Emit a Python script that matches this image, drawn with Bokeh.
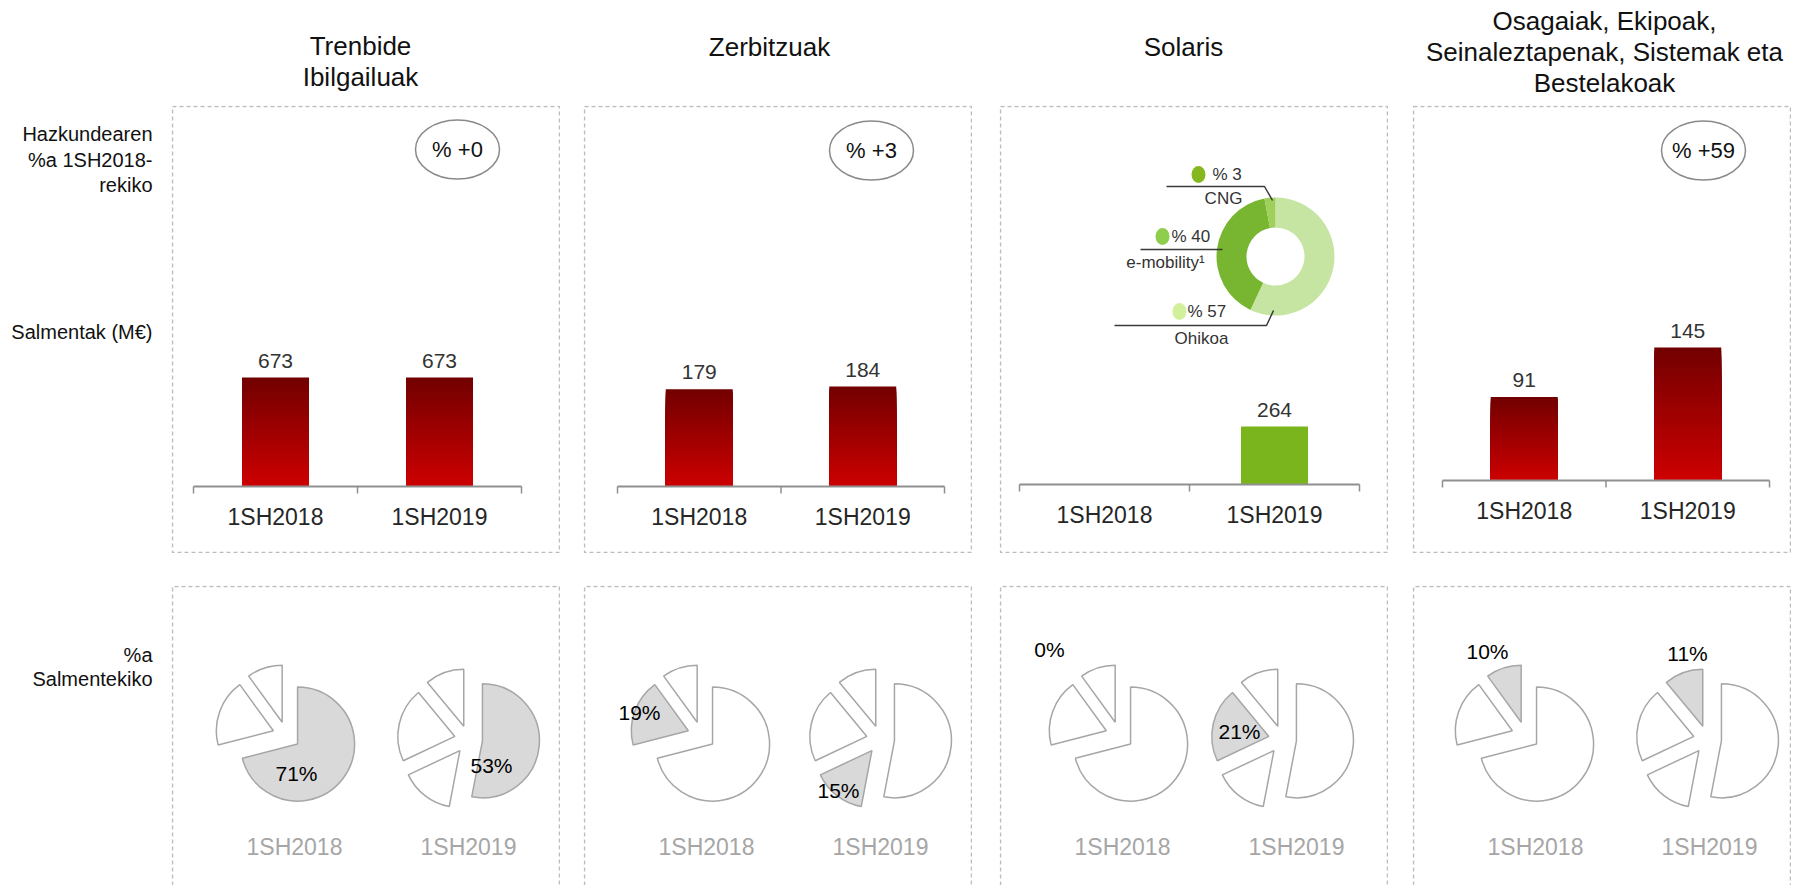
import math
from bokeh.plotting import figure
from bokeh.layouts import row, column
from bokeh.models import Range1d, Spacer
from bokeh.embed import file_html
from bokeh.resources import INLINE
from bokeh.core.properties import value

# ---------------- data ----------------
segments = ["Trenbide\nIbilgailuak", "Zerbitzuak", "Solaris",
            "Osagaiak, Ekipoak,\nSeinaleztapenak, Sistemak eta\nBestelakoak"]
periods = ["1SH2018", "1SH2019"]
sales_trenbide = [673, 673]
sales_zerbitzuak = [179, 184]
sales_solaris = [0, 264]
sales_osagaiak = [91, 145]
growth_pct = [0, 3, None, 59]
share_2018 = [71, 19, 0, 10]
share_2019 = [53, 15, 21, 11]
solaris_mix_labels = ["Ohikoa", "e-mobility¹", "CNG"]
solaris_mix_pct = [57, 40, 3]
row_labels_growth = ["Hazkundearen", "%a 1SH2018-", "rekiko"]
row_labels_sales = ["Salmentak (M€)"]
row_labels_share = ["%a", "Salmentekiko"]

sales = [sales_trenbide, sales_zerbitzuak, sales_solaris, sales_osagaiak]
shares = [share_2018, share_2019]

# ---------------- style / layout ----------------
FONT = value("Liberation Sans")
SHIFT_X, SHIFT_Y = 7, 6
LAB_W = 164 + SHIFT_X
BOX_W = [389, 389, 389, 379]
GAP_W = [23, 27, 24]
TITLE_H, TOP_H, GAP_H, BOT_H = 99 + SHIFT_Y, 448, 32, 300
TOTAL_W = LAB_W + sum(BOX_W) + sum(GAP_W)

BOX_C = "#bdbdbd"
AX_C = "#8f8f8f"
DARK_RED, RED = "#730000", "#cc0000"
GREEN = "#7ab51d"
TXT = "#111111"

TITLE_X = [x + SHIFT_X for x in (353, 762, 1176, 1597)]   # in title figure
TITLE_Y0 = [y + SHIFT_Y for y in (39, 40, 40, 14)]        # first line, from top
TITLE_LH = 31
LAB_RIGHT = 145 + SHIFT_X

AXIS_Y = [381, 381, 379, 375]
AXIS_X = [(22, 350), (34, 361), (20, 360), (30, 357)]
BAR_PX = [109, 100, 58, 133]
BAR_W_PX = 67
ELL_C = [(286, 44), (288, 45), None, (291, 45)]

DONUT_C = (276, 151)
DONUT_R = (29, 59)
DONUT_COL = ["#c6e5a2", "#78b632", "#9fd05c"]
DOT_COL = ["#d2f09c", "#8fcd4c", "#84b81e"]
CALLOUT_DOT = [(180, 206), (163, 131), (199, 69)]
CALLOUT_PCT_X = [188, 172, 213]
CALLOUT_LINE = [[(115, 220), (267, 220), (274, 205)],
                [(141, 144), (223, 144)],
                [(167, 81), (265, 81), (273, 95)]]
CALLOUT_NAME = [(202, 233), (166, 157), (224, 93)]

PIE_X = [[115, 297], [118, 297], [120, 283], [113, 295]]
PIE_Y = [150, 154]
PIE_R = 57
EXPLODE = 14
LBL_OFF = [[(10, 38), (23, 26)], [(-62, -23), (-42, 51)],
           [(-70, -86), (-43, -8)], [(-38, -84), (-20, -86)]]
PER_LBL_X = [123, 297]
PER_LBL_Y = 261


def mix(c1, c2, t):
    a = [int(c1[i:i + 2], 16) for i in (1, 3, 5)]
    b = [int(c2[i:i + 2], 16) for i in (1, 3, 5)]
    return "#%02x%02x%02x" % tuple(round(a[j] + (b[j] - a[j]) * t) for j in range(3))


def base(w, h, xr=None, yr=None):
    p = figure(width=w, height=h, output_backend="svg", toolbar_location=None,
               x_axis_location=None, y_axis_location=None, min_border=0,
               x_range=xr if xr is not None else Range1d(0, w),
               y_range=yr if yr is not None else Range1d(0, h))
    for g in p.grid:
        g.visible = False
    p.outline_line_color = None
    p.background_fill_color = "white"
    p.border_fill_color = "white"
    return p


def txt(p, xs, ys, texts, size, color=TXT, align="center", baseline="middle", rn=None, **kw):
    args = dict(x=xs, y=ys, text=texts, text_font=FONT, text_font_size=size,
                text_color=color, text_align=align, text_baseline=baseline)
    if rn:
        args.update(x_range_name=rn, y_range_name=rn)
    args.update(kw)
    p.text(**args)


# ---------------- titles ----------------
title_fig = base(TOTAL_W, TITLE_H)
for i, seg in enumerate(segments):
    lines = seg.split("\n")
    txt(title_fig, [TITLE_X[i]] * len(lines),
        [TITLE_H - (TITLE_Y0[i] + k * TITLE_LH) for k in range(len(lines))],
        lines, "26px")

# ---------------- row labels ----------------
lab_top = base(LAB_W, TOP_H)
txt(lab_top, [LAB_RIGHT] * 3, [TOP_H - y for y in (28, 54, 79)], row_labels_growth, "20px",
    align="right")
txt(lab_top, [LAB_RIGHT], [TOP_H - 226], row_labels_sales, "20px", align="right")
lab_bot = base(LAB_W, BOT_H)
txt(lab_bot, [LAB_RIGHT] * 2, [BOT_H - y for y in (69, 93)], row_labels_share, "20px",
    align="right")


# ---------------- top panels ----------------
def top_panel(i):
    w = BOX_W[i]
    vals = sales[i]
    n = len(periods)
    a = AXIS_Y[i]
    s = BAR_PX[i] / max(vals)
    ax0, ax1 = AXIS_X[i]
    unit = (ax1 - ax0) / n
    xr = Range1d(-0.5 - ax0 / unit, n - 0.5 + (w - ax1) / unit)
    yr = Range1d(-(TOP_H - a) / s, a / s)
    p = base(w, TOP_H, xr, yr)
    p.extra_x_ranges = {"px": Range1d(0, w)}
    p.extra_y_ranges = {"px": Range1d(0, TOP_H)}
    p.quad(left=[1], right=[w - 1], top=[TOP_H - 1], bottom=[1], fill_color=None,
           line_color=BOX_C, line_dash="4 3", line_width=1.5,
           x_range_name="px", y_range_name="px")

    xs = list(range(n))
    top_c, bot_c = (GREEN, GREEN) if i == 2 else (DARK_RED, RED)
    NB = 40
    bx, bt, bc = [], [], []
    for k in range(NB):
        f = 1 - k / NB
        col = mix(top_c, bot_c, k / (NB - 1))
        for x, v in zip(xs, vals):
            if v > 0:
                bx.append(x)
                bt.append(v * f)
                bc.append(col)
    p.vbar(x=bx, top=bt, bottom=0, width=BAR_W_PX / unit, fill_color=bc, line_color=None)

    # axis line and ticks
    p.segment(x0=[-0.5], y0=[0], x1=[n - 0.5], y1=[0], line_color=AX_C, line_width=2)
    p.ray(x=[k - 0.5 for k in range(n + 1)], y=[0] * (n + 1), length=7, length_units="screen",
          angle=-math.pi / 2, line_color=AX_C, line_width=1.5)

    nz = [(x, v) for x, v in zip(xs, vals) if v > 0]
    txt(p, [x for x, _ in nz], [v for _, v in nz], [str(v) for _, v in nz], "21px",
        color="#333333", y_offset=-17)
    txt(p, xs, [0] * n, periods, "23px", color="#262626", y_offset=30)

    if growth_pct[i] is not None:
        cx, cy = ELL_C[i]
        p.ellipse(x=[cx], y=[TOP_H - cy], width=84, height=59, width_units="screen",
                  height_units="screen", fill_color=None, line_color="#8a8a8a", line_width=1.5,
                  x_range_name="px", y_range_name="px")
        txt(p, [cx], [TOP_H - cy], ["%% +%d" % growth_pct[i]], "22px", rn="px")

    if i == 2:
        cx, cy = DONUT_C
        starts, ends, c = [], [], 0
        for pct in solaris_mix_pct:
            starts.append(math.pi / 2 - 2 * math.pi * c / 100)
            c += pct
            ends.append(math.pi / 2 - 2 * math.pi * c / 100)
        m = len(solaris_mix_pct)
        p.annular_wedge(x=[cx] * m, y=[TOP_H - cy] * m, inner_radius=DONUT_R[0],
                        outer_radius=DONUT_R[1], inner_radius_units="screen",
                        outer_radius_units="screen", start_angle=starts, end_angle=ends,
                        direction="clock", fill_color=DONUT_COL, line_color=None,
                        x_range_name="px", y_range_name="px")
        p.multi_line(xs=[[q[0] for q in L] for L in CALLOUT_LINE],
                     ys=[[TOP_H - q[1] for q in L] for L in CALLOUT_LINE],
                     line_color="#3a3a3a", line_width=1.5, x_range_name="px", y_range_name="px")
        p.ellipse(x=[d[0] for d in CALLOUT_DOT], y=[TOP_H - d[1] for d in CALLOUT_DOT],
                  width=14, height=17, width_units="screen", height_units="screen",
                  fill_color=DOT_COL, line_color=None, x_range_name="px", y_range_name="px")
        txt(p, CALLOUT_PCT_X, [TOP_H - d[1] for d in CALLOUT_DOT],
            ["%% %d" % v for v in solaris_mix_pct], "17px", color="#333333", align="left", rn="px")
        txt(p, [q[0] for q in CALLOUT_NAME], [TOP_H - q[1] for q in CALLOUT_NAME],
            solaris_mix_labels, "17px", color="#333333", rn="px")
    return p


# ---------------- bottom panels ----------------
def bottom_panel(i):
    w = BOX_W[i]
    p = base(w, BOT_H)
    p.multi_line(xs=[[1, 1, w - 1, w - 1]], ys=[[0, BOT_H - 1, BOT_H - 1, 0]],
                 line_color=BOX_C, line_dash="4 3", line_width=1.5)
    for j, sh in enumerate(shares):
        cx0, cy0 = PIE_X[i][j], BOT_H - PIE_Y[j]
        xs, ys, st, en, fills = [], [], [], [], []
        c = 0
        for k, v in enumerate(sh):
            a0 = math.pi / 2 - 2 * math.pi * c / 100
            c += v
            a1 = math.pi / 2 - 2 * math.pi * c / 100
            if v <= 0:
                continue
            mid = (a0 + a1) / 2
            xs.append(cx0 + EXPLODE * math.cos(mid))
            ys.append(cy0 + EXPLODE * math.sin(mid))
            st.append(a0)
            en.append(a1)
            fills.append("#d9d9d9" if k == i else "white")
        p.wedge(x=xs, y=ys, radius=PIE_R, radius_units="screen", start_angle=st, end_angle=en,
                direction="clock", fill_color=fills, line_color="#a6a6a6", line_width=1.5)
        dx, dy = LBL_OFF[i][j]
        txt(p, [cx0 + dx], [cy0 - dy], ["%d%%" % sh[i]], "21px", color="#000000")
        txt(p, [PER_LBL_X[j]], [BOT_H - PER_LBL_Y], [periods[j]], "23px", color="#a6a6a6")
    return p


tops = [top_panel(i) for i in range(4)]
bots = [bottom_panel(i) for i in range(4)]

top_children = [lab_top]
bot_children = [lab_bot]
for i in range(4):
    top_children.append(tops[i])
    bot_children.append(bots[i])
    if i < 3:
        top_children.append(Spacer(width=GAP_W[i], height=TOP_H))
        bot_children.append(Spacer(width=GAP_W[i], height=BOT_H))

layout = column([title_fig, row(top_children), Spacer(width=TOTAL_W, height=GAP_H),
                 row(bot_children)])

open("out.html", "w").write(file_html(layout, INLINE))
